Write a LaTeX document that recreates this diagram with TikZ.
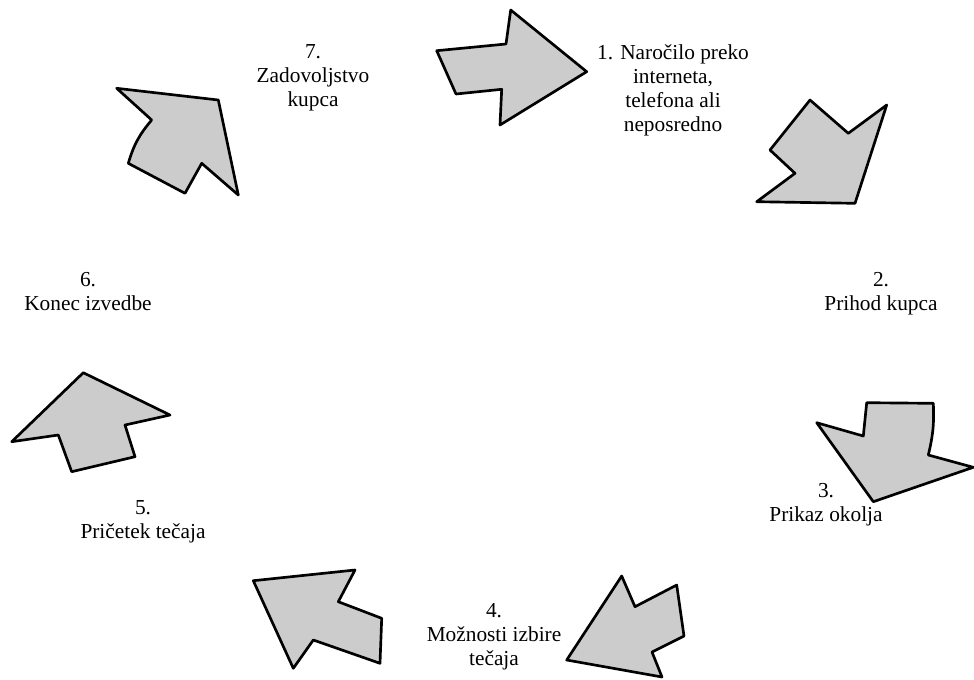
\documentclass[tikz,border=0pt]{standalone}
\usepackage{fontspec}
\setmainfont{Liberation Serif}
\usepackage{tikz}
\tikzset{
  shp/.style={draw, line width=2pt, line join=round, fill=black!20},
  lbl/.style={align=center, inner sep=0pt, font=\fontsize{16}{18}\selectfont},
}

\begin{document}
\begin{tikzpicture}[x=0.75pt,y=-0.75pt]
\useasboundingbox (0,0) rectangle (974,679);
% arrows, clockwise from the top
\draw[shp] (436.7,50.7) -- (506,44) -- (510.7,10) -- (586.7,71.7) -- (500,125) -- (501.7,89.3) -- (456,94) -- cycle;
\draw[shp] (810,100) -- (848.3,133.3) -- (886.7,105) -- (855,203.3) -- (756.7,201.7) -- (795,173.3) -- (770,150) -- cycle;
\draw[shp] (866.7,402.7) -- (933.3,403.3) to[bend left=8] (928.3,455) -- (973.3,467.3) -- (873.3,501.7) -- (816.7,422.7) -- (863.3,436) -- cycle;
\draw[shp] (621.7,576) -- (635,606.7) -- (676.7,585) -- (684,636) -- (652,652) -- (662,677) -- (566.7,660) -- cycle;
\draw[shp] (253.3,580.7) -- (355,570) -- (338.3,601.7) -- (381.7,618.3) -- (380,663.3) -- (313.3,640) -- (293.3,668.3) -- cycle;
\draw[shp] (83.3,372.7) -- (170,415) -- (125,425) -- (135,456.7) -- (71.7,471.7) -- (58.3,435) -- (11.7,441.7) -- cycle;
\draw[shp] (116.7,88.3) -- (218.3,100) -- (238.3,195) -- (201.7,163.3) -- (185,193.3) -- (128.3,163.3) to[bend left=12] (151.7,120) -- cycle;
% labels
\node[lbl] (s1) at (673,90) {1. Naročilo preko\\interneta,\\telefona ali\\neposredno};
\node[lbl] (s2) at (881,294) {2.\\Prihod kupca};
\node[lbl] (s3) at (826,505) {3.\\Prikaz okolja};
\node[lbl] (s4) at (494,637) {4.\\Možnosti izbire\\tečaja};
\node[lbl] (s5) at (143,522) {5.\\Pričetek tečaja};
\node[lbl] (s6) at (88,292) {6.\\Konec izvedbe};
\node[lbl] (s7) at (313,78) {7.\\Zadovoljstvo\\kupca};
\end{tikzpicture}
\end{document}
